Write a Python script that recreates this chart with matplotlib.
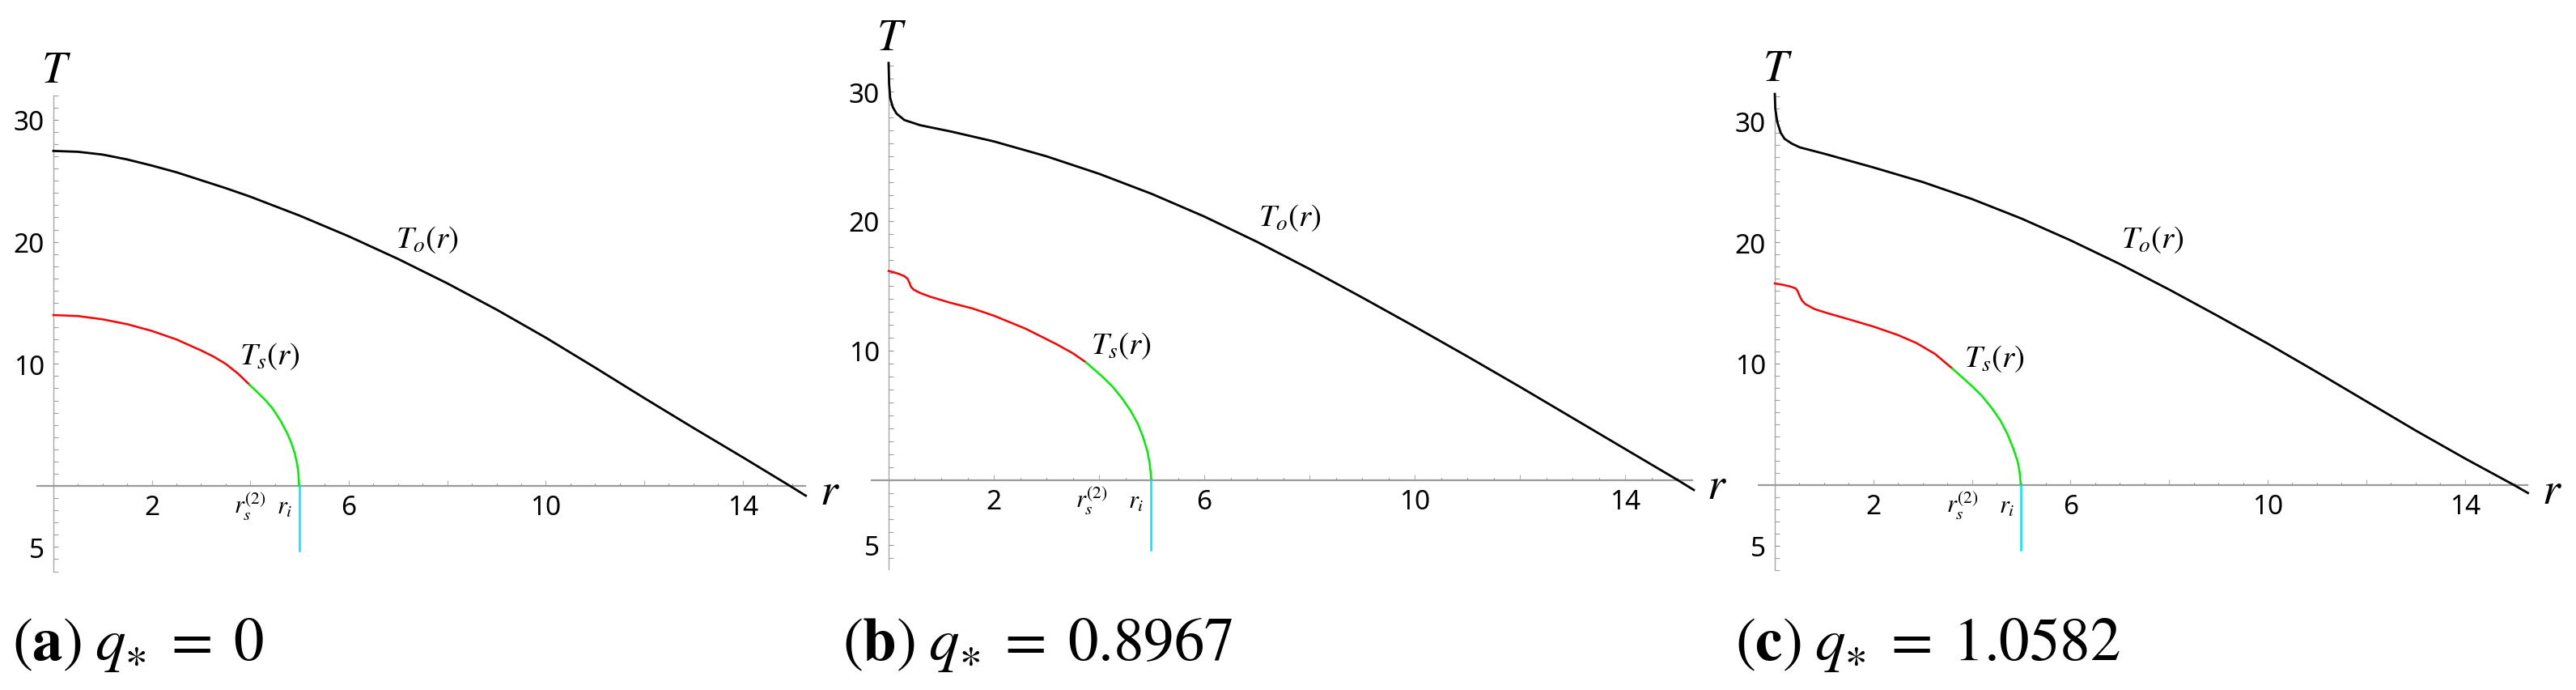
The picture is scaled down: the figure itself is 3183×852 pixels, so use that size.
import matplotlib
matplotlib.use("Agg")
import matplotlib.pyplot as plt
from matplotlib.ticker import FixedLocator, MultipleLocator

plt.rcParams['mathtext.fontset'] = 'stix'
plt.rcParams['font.family'] = ['Noto Sans', 'DejaVu Sans']

# ---- data ----
# panel (a) q* = 0
a_ro = [0, 0.5, 1, 1.5, 2, 2.5, 3, 3.5, 4, 5, 6, 7, 8, 9, 10, 11, 12, 13, 14, 14.96, 15.28]
a_To = [27.45, 27.38, 27.15, 26.75, 26.25, 25.7, 25.05, 24.4, 23.7, 22.15, 20.45, 18.6, 16.6, 14.45, 12.15, 9.7, 7.2, 4.75, 2.35, 0.0, -0.8]
a_rs_red = [0, 0.5, 1, 1.5, 2, 2.5, 3, 3.25, 3.5, 3.75, 3.98]
a_Ts_red = [14.0, 13.92, 13.65, 13.25, 12.7, 12.0, 11.1, 10.6, 10.0, 9.2, 8.3]
a_rs_grn = [3.98, 4.15, 4.3, 4.45, 4.62, 4.75, 4.83, 4.9, 4.95, 4.975, 4.99]
a_Ts_grn = [8.3, 7.65, 7.05, 6.35, 5.3, 4.3, 3.55, 2.7, 1.8, 1.1, 0.0]

# panel (b) q* = 0.8967
b_ro = [0, 0.01, 0.03, 0.08, 0.15, 0.3, 0.6, 1.2, 2, 3, 4, 5, 6, 7, 8, 9, 10, 11, 12, 13, 14, 15, 15.3]
b_To = [32.2, 30.6, 29.5, 28.8, 28.3, 27.8, 27.4, 26.9, 26.15, 25.0, 23.65, 22.1, 20.35, 18.4, 16.3, 14.1, 11.85, 9.55, 7.2, 4.8, 2.4, 0.0, -0.75]
b_rs_red = [0, 0.1, 0.21, 0.3, 0.36, 0.4, 0.43, 0.48, 0.6, 0.8, 1.17, 1.6, 2, 2.6, 3.19, 3.5, 3.75]
b_Ts_red = [16.15, 16.05, 15.9, 15.75, 15.55, 15.2, 14.9, 14.7, 14.45, 14.15, 13.7, 13.25, 12.7, 11.7, 10.5, 9.8, 9.1]
b_rs_grn = [3.75, 4.06, 4.25, 4.44, 4.6, 4.73, 4.83, 4.92, 4.96, 4.98, 4.99]
b_Ts_grn = [9.1, 8.0, 7.25, 6.3, 5.35, 4.4, 3.4, 2.2, 1.3, 0.6, 0.0]

# panel (c) q* = 1.0582
c_ro = [0, 0.01, 0.05, 0.12, 0.2, 0.35, 0.51, 1.03, 2, 3, 4, 5, 6, 7, 8, 9, 10, 11, 12, 13, 14, 15, 15.28]
c_To = [32.2, 31.0, 29.9, 29.0, 28.5, 28.1, 27.8, 27.25, 26.15, 24.95, 23.55, 21.95, 20.15, 18.2, 16.1, 13.9, 11.65, 9.3, 6.9, 4.5, 2.2, 0.0, -0.65]
c_rs_red = [0, 0.15, 0.31, 0.42, 0.46, 0.5, 0.55, 0.62, 0.8, 1.03, 1.5, 2, 2.5, 2.87, 3.25, 3.6]
c_Ts_red = [16.6, 16.5, 16.35, 16.2, 16.0, 15.6, 15.2, 14.9, 14.5, 14.2, 13.65, 13.05, 12.35, 11.7, 10.8, 9.6]
c_rs_grn = [3.6, 4.0, 4.2, 4.41, 4.58, 4.72, 4.84, 4.93, 4.97, 4.98, 4.99]
c_Ts_grn = [9.6, 8.15, 7.35, 6.3, 5.3, 4.2, 3.0, 1.9, 1.0, 0.5, 0.0]

r_i = [4.99, 4.99, 4.99]
cyan_bottom = [-5.3, -5.35, -5.3]
rs2_label_x = [3.99, 3.86, 3.81]
ri_label_x = [4.69, 4.70, 4.71]
To_label_pos = [(6.95, 19.6), (7.03, 19.7), (7.02, 19.6)]
Ts_label_pos = [(3.78, 10.0), (3.84, 9.8), (3.84, 9.8)]
captions = [r'$(\mathbf{a})\;q_{\ast}\;=\;0$',
            r'$(\mathbf{b})\;q_{\ast}\;=\;0.8967$',
            r'$(\mathbf{c})\;q_{\ast}\;=\;1.0582$']

x_major = [2, 4, 6, 8, 10, 12, 14]
x_major_labels = ['2', '', '6', '', '10', '', '14']
y_major = [-5, 10, 20, 30]
y_major_labels = ['5', '10', '20', '30']

# ---- layout (pixels) ----
W, H = 3183, 853
fig = plt.figure(figsize=(W / 100, H / 100), dpi=100)

# left, top, right, bottom in pixels
boxes = [(45.9, 118.8, 995.0, 706.5), (1076.5, 78.8, 2091.0, 703.6), (2172.9, 117.0, 3123.0, 705.0)]
ylims = [(-7.0, 32.0), (-6.85, 32.2), (-7.0, 32.2)]
xlim = (-0.33, 15.27)
cap_left = [15, 1041, 2144]

panels = [
    (a_ro, a_To, a_rs_red, a_Ts_red, a_rs_grn, a_Ts_grn),
    (b_ro, b_To, b_rs_red, b_Ts_red, b_rs_grn, b_Ts_grn),
    (c_ro, c_To, c_rs_red, c_Ts_red, c_rs_grn, c_Ts_grn),
]

for i, (ro, To, rr, Tr, rg, Tg) in enumerate(panels):
    l, t, r, b = boxes[i]
    ax = fig.add_axes([l / W, (H - b) / H, (r - l) / W, (b - t) / H])
    ax.set_xlim(*xlim)
    ax.set_ylim(*ylims[i])

    ax.plot(ro, To, color='black', lw=2.0, clip_on=False, zorder=3, solid_joinstyle='round')
    ax.plot(rr, Tr, color='#ff0000', lw=1.8, clip_on=False, zorder=3, solid_joinstyle='round')
    ax.plot(rg, Tg, color='#00ee00', lw=1.8, clip_on=False, zorder=3, solid_joinstyle='round')
    ax.plot([r_i[i], r_i[i]], [0, cyan_bottom[i]], color='#00e5ff', lw=1.8, clip_on=False, zorder=3)

    for s in ['top', 'right']:
        ax.spines[s].set_visible(False)
    ax.spines['left'].set_position(('data', 0))
    ax.spines['bottom'].set_position(('data', 0))
    ax.spines['bottom'].set_color('#9a9a9a')
    ax.spines['bottom'].set_linewidth(1.6)
    ax.spines['left'].set_color('#a8a8a8')
    ax.spines['left'].set_linewidth(1.0)

    ax.xaxis.set_major_locator(FixedLocator(x_major))
    ax.set_xticklabels(x_major_labels)
    ax.xaxis.set_minor_locator(MultipleLocator(0.5))
    ax.yaxis.set_major_locator(FixedLocator(y_major))
    ax.set_yticklabels(y_major_labels)
    ax.yaxis.set_minor_locator(MultipleLocator(1))

    ax.tick_params(axis='x', which='major', direction='in', length=5, width=0.8,
                   color='#b0b0b0', labelsize=24, pad=7)
    ax.tick_params(axis='x', which='minor', direction='in', length=2.5, width=0.8, color='#808080')
    ax.tick_params(axis='y', which='major', direction='in', length=4.5, width=0.8,
                   color='#909090', labelsize=24, pad=8)
    ax.tick_params(axis='y', which='minor', direction='in', length=4, width=0.8, color='#a0a0a0')

    # axis names
    ax.annotate(r'$T$', xy=(0, ylims[i][1]), xycoords='data', xytext=(4, 17),
                textcoords='offset pixels', ha='center', va='baseline', fontsize=40)
    ax.annotate(r'$r$', xy=(xlim[1], 0), xycoords='data', xytext=(18, -22),
                textcoords='offset pixels', ha='left', va='baseline', fontsize=40)

    # special tick labels
    ax.annotate(r'$r_s^{(2)}$', xy=(rs2_label_x[i], 0), xycoords='data', xytext=(0, -34),
                textcoords='offset pixels', ha='center', va='baseline', fontsize=22)
    ax.annotate(r'$r_i$', xy=(ri_label_x[i], 0), xycoords='data', xytext=(0, -34),
                textcoords='offset pixels', ha='center', va='baseline', fontsize=22)

    # curve labels
    ax.text(To_label_pos[i][0], To_label_pos[i][1], r'$T_o(r)$', ha='left', va='baseline', fontsize=28)
    ax.text(Ts_label_pos[i][0], Ts_label_pos[i][1], r'$T_s(r)$', ha='left', va='baseline', fontsize=28)

    fig.text(cap_left[i] / W, 38 / H, captions[i], ha='left', va='baseline', fontsize=54)

fig.savefig('out.png', dpi=100)
